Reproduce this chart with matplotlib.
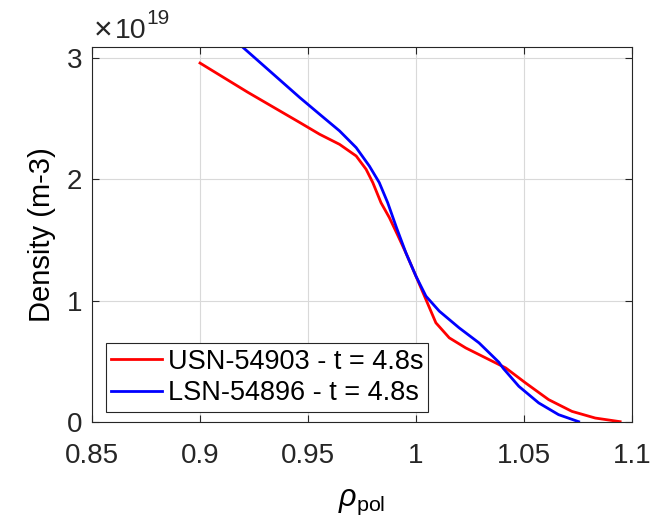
import numpy as np
import matplotlib
matplotlib.use("Agg")
import matplotlib.pyplot as plt
from matplotlib.ticker import FuncFormatter

plt.rcParams['font.family'] = ['Liberation Sans', 'DejaVu Sans']
plt.rcParams['mathtext.fontset'] = 'custom'
plt.rcParams['mathtext.rm'] = 'Liberation Sans'
plt.rcParams['mathtext.it'] = 'Liberation Sans:italic'

# USN-54903 profile
usn_rho = [0.900, 0.922, 0.9462, 0.9554, 0.9646, 0.9723, 0.9769, 0.980, 0.9838,
           0.9877, 0.9915, 0.9954, 1.000, 1.0046, 1.0092, 1.0154, 1.023, 1.0323,
           1.0415, 1.0507, 1.0614, 1.0722, 1.083, 1.0945]
usn_dens = [2.96, 2.72, 2.469, 2.372, 2.289, 2.193, 2.083, 1.973, 1.807,
            1.683, 1.54, 1.39, 1.20, 1.008, 0.816, 0.692, 0.609, 0.526,
            0.444, 0.32, 0.182, 0.085, 0.03, 0.0]

# LSN-54896 profile
lsn_rho = [0.9192, 0.9462, 0.9554, 0.9646, 0.9723, 0.9784, 0.983, 0.9869, 0.991,
           0.9954, 1.000, 1.0046, 1.0108, 1.020, 1.0292, 1.0384, 1.0404, 1.0476,
           1.0568, 1.066, 1.0753]
lsn_dens = [3.10, 2.675, 2.537, 2.40, 2.262, 2.11, 1.973, 1.807, 1.60,
            1.39, 1.20, 1.036, 0.912, 0.774, 0.65, 0.49, 0.44, 0.292,
            0.155, 0.058, 0.0]

xtick_vals = [0.85, 0.9, 0.95, 1.0, 1.05, 1.1]
xtick_labels = ['0.85', '0.9', '0.95', '1', '1.05', '1.1']
ytick_vals = [0, 1e19, 2e19, 3e19]

usn_dens = np.array(usn_dens) * 1e19
lsn_dens = np.array(lsn_dens) * 1e19

W, H = 664, 525
fig = plt.figure(figsize=(W / 100, H / 100), dpi=100)
ax = fig.add_axes([0.1386, 0.1968, 0.8132, 0.7131])

ax.plot(usn_rho, usn_dens, color='red', linewidth=2.0, label='USN-54903 - t = 4.8s')
ax.plot(lsn_rho, lsn_dens, color='blue', linewidth=2.0, label='LSN-54896 - t = 4.8s')

ax.set_xlim(0.85, 1.1)
ax.set_ylim(0, 3.09e19)
ax.set_xticks(xtick_vals)
ax.set_xticklabels(xtick_labels)
ax.set_yticks(ytick_vals)
ax.yaxis.set_major_formatter(FuncFormatter(lambda v, p: f'{v / 1e19:g}'))

# MATLAB style exponent above the y axis
txt = '#262626'
fig.text(94 / W, 1 - 39 / H, '\u00d7', fontsize=23, color=txt, va='baseline')
fig.text(115 / W, 1 - 38 / H, '10', fontsize=20.5, color=txt, va='baseline')
fig.text(146 / W, 1 - 24 / H, '19', fontsize=15, color=txt, va='baseline')

ax.grid(True, color='#d9d9d9', linewidth=0.8)
ax.set_axisbelow(True)
ax.tick_params(direction='in', top=True, right=True, labelsize=20,
               length=5, width=0.8, colors=txt)
ax.tick_params(axis='x', pad=15)
ax.tick_params(axis='y', pad=7)
for s in ax.spines.values():
    s.set_color(txt)
    s.set_linewidth(0.8)

ax.set_ylabel('Density (m-3)', fontsize=21, labelpad=8)
ax.set_xlabel(r'$\rho_{\rm pol}$', fontsize=22, labelpad=13)

leg = ax.legend(loc='lower left', bbox_to_anchor=(14 / 540, 10 / 375),
                borderaxespad=0, fontsize=19.5, frameon=True, fancybox=False,
                edgecolor=txt, framealpha=1, handlelength=1.85,
                handletextpad=0.22, borderpad=0.2, labelspacing=0.2)
leg.get_frame().set_linewidth(0.8)

fig.savefig('out.png', dpi=100)
